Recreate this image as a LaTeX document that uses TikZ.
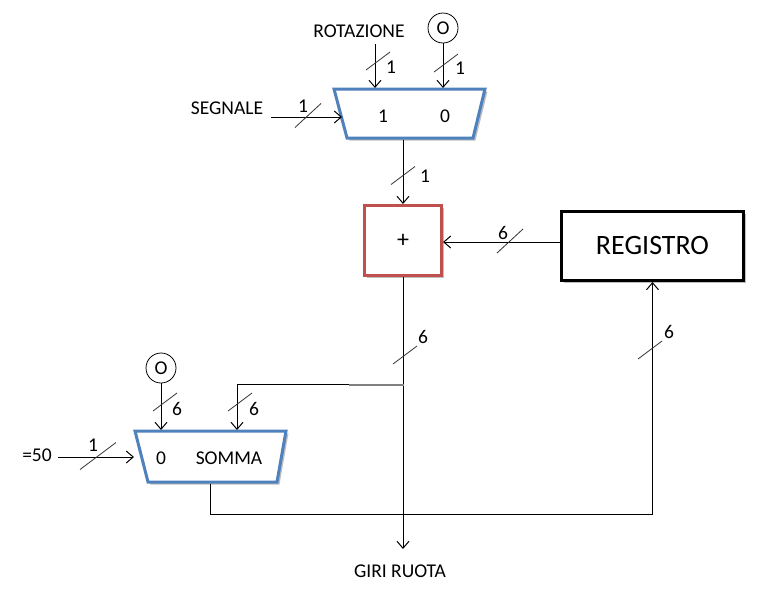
\documentclass[tikz,border=0pt]{standalone}
\usepackage{fontspec}
\setmainfont{Carlito}
\usetikzlibrary{arrows.meta,shadows,calc}
\definecolor{muxblue}{HTML}{4F81BD}
\definecolor{addred}{HTML}{C0504D}
\begin{document}
\begin{tikzpicture}[x=1pt,y=-1pt,
  lbl/.style={font=\fontsize{19.5}{22}\selectfont, inner sep=0pt},
  wire/.style={line width=1pt, draw=black},
  arr/.style={wire, -{Straight Barb[length=7pt,width=12pt,line width=1pt]}},
  slashline/.style={line width=0.8pt, draw=black!80},
  softshadow/.style={drop shadow={shadow xshift=2.5pt, shadow yshift=-2.5pt, opacity=0.25, fill=black}},
  muxbox/.style={draw=muxblue, line width=3pt, fill=white, line join=miter, softshadow},
  zerocirc/.style={lbl, circle, draw, line width=0.8pt, minimum size=30pt, inner sep=0pt},
  vsl/.pic={\draw[slashline] (-12,9) -- (12,-9);},
  hsl/.pic={\draw[slashline] (-13,12) -- (13,-12);},
  wsl/.pic={\draw[slashline] (-18,13.5) -- (18,-13.5);}
]
\useasboundingbox (0,0) rectangle (759,590);

% ---------- top multiplexer ----------
\draw[muxbox] (334,89) -- (485,89) -- (473,138) -- (347,138) -- cycle;
\coordinate (m1in1) at (375,88);
\coordinate (m1in0) at (443,88);
\coordinate (m1left) at (342,117);
\coordinate (m1out) at (403,139.5);
\node[lbl] (m1l1) at (383,116) {1};
\node[lbl] (m1l0) at (445,116) {0};

\node[lbl] (rot) at (359,31) {ROTAZIONE};
\coordinate (rotstart) at (375,44);
\draw[arr] (rotstart) -- (m1in1);
\pic at (378,61) {vsl};
\node[lbl] (rotw) at (391,67) {1};

\node[zerocirc] (o1) at (443,28) {O};
\draw[arr] (o1.south) -- (m1in0);
\pic at (446,63) {vsl};
\node[lbl] (o1w) at (460,68) {1};

\node[lbl] (seg) at (227,108) {SEGNALE};
\coordinate (segstart) at (271,117);
\draw[arr] (segstart) -- (m1left);
\pic at (308,115.5) {hsl};
\node[lbl] (segw) at (303,106) {1};

% ---------- adder ----------
\node[draw=addred, line width=3pt, fill=white, minimum width=77pt, minimum height=70pt,
      inner sep=0pt, font=\fontsize{24}{26}\selectfont, softshadow] (add) at (403,240.5) {+};
\draw[arr] (m1out) -- (add.north);
\pic at (403,175.5) {vsl};
\node[lbl] (m1ow) at (425,176) {1};

% ---------- register ----------
\node[draw=black, line width=3pt, fill=white, minimum width=182pt, minimum height=69pt,
      inner sep=0pt, font=\fontsize{28}{32}\selectfont, softshadow] (reg) at (652.5,246) {REGISTRO};
\coordinate (regL) at (560,242);
\draw[arr] (regL) -- (add.east |- regL);
\pic at (510,241) {hsl};
\node[lbl] (regw) at (503,233) {6};

% ---------- output ----------
\coordinate (giritip) at (403,549);
\draw[arr] (add.south) -- (giritip);
\pic at (405,355) {vsl};
\node[lbl] (addw) at (423,337) {6};
\node[lbl] (giri) at (400,571) {GIRI RUOTA};

% ---------- bottom multiplexer ----------
\draw[muxbox] (135,431) -- (286,431) -- (277,482) -- (148,482) -- cycle;
\coordinate (m2in0) at (161,430);
\coordinate (m2in1) at (237,430);
\coordinate (m2left) at (134,457);
\coordinate (m2out) at (210,483.5);
\node[lbl] (m2l0) at (161,458) {0};
\node[lbl] (m2ls) at (229,458) {SOMMA};

\coordinate (branch) at (403.5,384.5);
\coordinate (branchmid) at (349,384.5);
\draw[line width=2pt, draw=black!50] (branch) -- (branchmid);
\draw[arr] (branchmid) -| (m2in1);
\pic at (240,402) {vsl};
\node[lbl] (brw) at (254,409) {6};

\node[zerocirc] (o2) at (161,368) {O};
\draw[arr] (o2.south) -- (m2in0);
\pic at (165,402) {vsl};
\node[lbl] (o2w) at (177,409) {6};

\node[lbl] (c50) at (37,455) {=50};
\coordinate (c50start) at (58,457);
\draw[arr] (c50start) -- (m2left);
\pic at (98,456) {wsl};
\node[lbl] (c50w) at (93,445) {1};

% ---------- feedback to register ----------
\coordinate (lowy) at (0,514);
\draw[arr] (m2out) |- (lowy -| reg.south) -- (reg.south);
\pic at (650,350) {vsl};
\node[lbl] (fbw) at (669,332) {6};
\end{tikzpicture}
\end{document}
